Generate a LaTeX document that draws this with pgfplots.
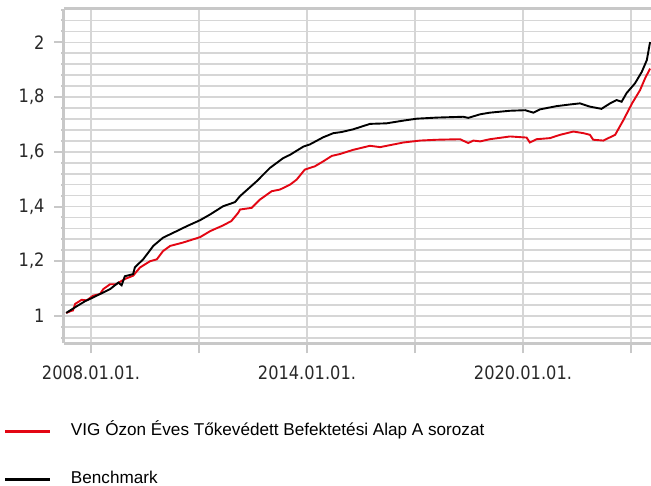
\documentclass[border=0pt]{standalone}
\usepackage{fontspec}
\setmainfont{Liberation Sans}
\newfontfamily\tickfont[FakeStretch=0.88]{DejaVu Sans}
\usepackage{pgfplots}
\pgfplotsset{compat=1.18}
\definecolor{fundred}{RGB}{227,6,19}
\definecolor{axgray}{RGB}{200,200,200}
\definecolor{gridgray}{RGB}{214,214,214}
\definecolor{labgray}{RGB}{40,40,40}
\begin{document}
\begin{tikzpicture}
\path[use as bounding box] (-64bp,-142.7bp) rectangle (587bp,343.3bp);
\begin{axis}[
  at={(0,0)}, anchor=south west,
  scale only axis, width=587bp, height=334.6bp,
  xmin=2007.25, xmax=2023.556, ymin=0.9, ymax=2.123,
  separate axis lines,
  axis x line*=box, axis y line*=left,
  axis line style={axgray, line width=3bp, -},
  xtick={2008,2011,2014,2017,2020,2023},
  xticklabels={2008.01.01.,,2014.01.01.,,2020.01.01.,},
  ytick={1,1.2,1.4,1.6,1.8,2},
  yticklabels={1,{1,2},{1,4},{1,6},{1,8},2},
  minor ytick={0.92,0.96,1.04,1.08,1.12,1.16,1.24,1.28,1.32,1.36,1.44,1.48,1.52,1.56,1.64,1.68,1.72,1.76,1.84,1.88,1.92,1.96,2.04,2.08,2.12},
  xtick pos=bottom, ytick pos=left,
  tick align=outside,
  major tick length=10bp, minor tick length=3bp,
  major tick style={axgray, line width=2bp},
  minor tick style={axgray, line width=2bp},
  xmajorgrids, ymajorgrids, yminorgrids,
  major grid style={gridgray, line width=1.7bp},
  minor grid style={gridgray, line width=1.7bp},
  /pgf/number format/assume math mode=true,
  ticklabel style={font=\tickfont\fontsize{18.5}{20}\selectfont, text=labgray},
  xticklabel style={yshift=-9bp},
  yticklabel style={xshift=-6bp},
  legend style={at={(0,0)}, anchor=north west, xshift=-60bp, yshift=-80bp,
    draw=none, fill=none, inner sep=0pt, outer sep=0pt,
    font=\fontsize{17.2}{20}\selectfont, text=black,
    nodes={inner sep=0pt, text height=12.5bp, text depth=3.5bp, anchor=west},
    row sep=32bp,
    /tikz/every odd column/.append style={column sep=19bp}},
  legend cell align=left,
  legend image code/.code={\draw[#1, line width=3bp] (0bp,0bp) -- (45bp,0bp);},
]
\addplot[fundred, line width=1.9bp] coordinates {
(2007.31,1.011) (2007.46,1.019) (2007.5,1.02) (2007.56,1.044) (2007.74,1.059) (2007.88,1.057)
(2008.06,1.074) (2008.25,1.08) (2008.34,1.098) (2008.53,1.116) (2008.7,1.116) (2008.85,1.128)
(2008.94,1.135) (2009.17,1.147) (2009.36,1.177) (2009.64,1.2) (2009.83,1.207) (2010.0,1.237)
(2010.2,1.256) (2010.55,1.268) (2011.03,1.288) (2011.31,1.31) (2011.67,1.331) (2011.9,1.347)
(2012.09,1.377) (2012.14,1.389) (2012.46,1.395) (2012.69,1.425) (2013.02,1.456) (2013.25,1.462)
(2013.53,1.48) (2013.71,1.498) (2013.94,1.535) (2014.22,1.547) (2014.45,1.565) (2014.69,1.585)
(2014.92,1.592) (2015.28,1.607) (2015.75,1.622) (2016.03,1.617) (2016.68,1.634) (2017.14,1.641)
(2017.6,1.644) (2018.25,1.646) (2018.48,1.632) (2018.62,1.641) (2018.81,1.638) (2019.08,1.646)
(2019.64,1.656) (2020.1,1.652) (2020.19,1.634) (2020.38,1.646) (2020.75,1.65) (2021.03,1.662)
(2021.4,1.674) (2021.68,1.668) (2021.86,1.662) (2021.95,1.644) (2022.23,1.641) (2022.56,1.662)
(2022.79,1.716) (2023.03,1.777) (2023.25,1.825) (2023.39,1.868) (2023.53,1.904)
};
\addlegendentry{VIG Ózon Éves Tőkevédett Befektetési Alap A sorozat}
\addplot[black, line width=1.9bp] coordinates {
(2007.31,1.011) (2007.6,1.035) (2007.85,1.055) (2008.02,1.065) (2008.25,1.08) (2008.53,1.098)
(2008.76,1.122) (2008.85,1.112) (2008.94,1.145) (2009.17,1.153) (2009.22,1.178) (2009.45,1.207)
(2009.73,1.256) (2010.0,1.286) (2010.38,1.31) (2010.66,1.328) (2011.03,1.35) (2011.31,1.371)
(2011.67,1.401) (2012.0,1.416) (2012.14,1.438) (2012.6,1.492) (2012.97,1.541) (2013.34,1.577)
(2013.53,1.589) (2013.9,1.619) (2014.08,1.627) (2014.45,1.653) (2014.73,1.668) (2014.95,1.672)
(2015.28,1.682) (2015.75,1.702) (2016.21,1.704) (2016.68,1.714) (2017.05,1.721) (2017.6,1.725)
(2018.34,1.728) (2018.48,1.724) (2018.81,1.737) (2019.08,1.743) (2019.64,1.75) (2020.06,1.752)
(2020.29,1.743) (2020.47,1.755) (2020.94,1.767) (2021.31,1.773) (2021.58,1.777) (2021.86,1.765)
(2022.18,1.757) (2022.42,1.777) (2022.6,1.789) (2022.74,1.783) (2022.88,1.815) (2023.11,1.85)
(2023.3,1.892) (2023.44,1.935) (2023.53,2.001)
};
\addlegendentry{Benchmark}
\end{axis}
\end{tikzpicture}
\end{document}
